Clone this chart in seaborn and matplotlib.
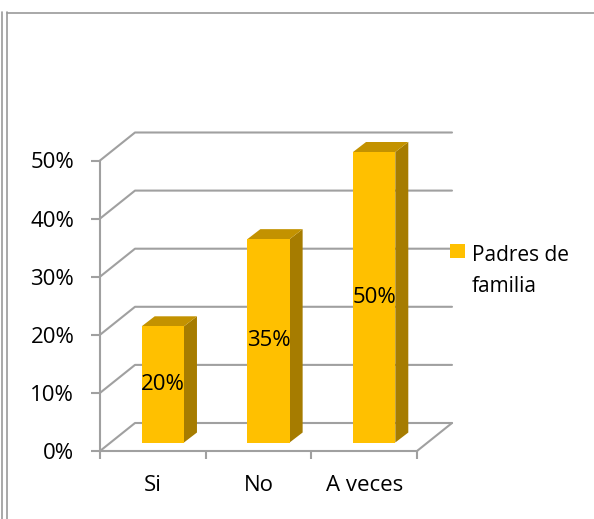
import matplotlib
matplotlib.use("Agg")
import matplotlib.pyplot as plt
import seaborn as sns
from matplotlib.patches import Polygon, Rectangle
from matplotlib.lines import Line2D
from matplotlib.transforms import ScaledTranslation, IdentityTransform

# data
categories = ["Si", "No", "A veces"]
values = [0.20, 0.35, 0.50]
y_ticks = [0.0, 0.1, 0.2, 0.3, 0.4, 0.5]
y_tick_labels = ["0%", "10%", "20%", "30%", "40%", "50%"]
bar_labels = ["20%", "35%", "50%"]
series_name = "Padres de\nfamilia"

# colours
FRONT = "#FFC000"
TOP = "#C39200"
SIDE = "#A67C00"
GRID = "#A0A0A0"

DPI = 100
W, H = 594, 519

sns.set_style("white")
plt.rcParams["font.family"] = ["Open Sans", "DejaVu Sans"]

fig = plt.figure(figsize=(W / DPI, H / DPI), dpi=DPI)

# front plane of the 3D box, in pixels (from top-left)
x0, x1, y0, y1 = 100, 417, 451, 160.5
ax = fig.add_axes([x0 / W, 1 - y0 / H, (x1 - x0) / W, (y0 - y1) / H])
ax.patch.set_alpha(0)

sns.barplot(x=categories, y=values, color=FRONT, saturation=1, width=0.4,
            ax=ax, zorder=3, linewidth=0)
ax.set_xlim(-0.5, 2.5)
ax.set_ylim(0, 0.5)
ax.set_xlabel("")
ax.set_ylabel("")

# depth offsets in pixels
wall_dx, wall_dy = 35, 28
bar_dx, bar_dy = 10, 8.5
depth_dx, depth_dy = 13, 10

ident = IdentityTransform()


def px(x, y):
    return ax.transData.transform((x, y))


# back wall grid lines + left wall diagonals
for t in y_ticks:
    fx, fy = px(-0.5, t)
    ex, ey = px(2.5, t)
    ax.add_line(Line2D([fx, fx + wall_dx, ex + wall_dx], [fy, fy + wall_dy, ey + wall_dy],
                       transform=ident, color=GRID, lw=1.5, zorder=1, clip_on=False))
# right edge of the floor
rx0, ry0 = px(2.5, 0)
ax.add_line(Line2D([rx0, rx0 + wall_dx], [ry0, ry0 + wall_dy], transform=ident,
                   color=GRID, lw=1.5, zorder=1, clip_on=False))

# bars: push the front faces into the box and add top / side faces
off = ScaledTranslation(bar_dx / DPI, bar_dy / DPI, fig.dpi_scale_trans)
bars = list(ax.patches)
for bar, lab in zip(bars, bar_labels):
    bar.set_transform(ax.transData + off)
    bar.set_clip_on(False)
    xl = bar.get_x()
    xr = xl + bar.get_width()
    h = bar.get_height()
    lx, by = px(xl, 0)
    rx, ty = px(xr, h)
    lx += bar_dx
    rx += bar_dx
    by += bar_dy
    ty += bar_dy
    side = Polygon([(rx, by), (rx, ty), (rx + depth_dx, ty + depth_dy), (rx + depth_dx, by + depth_dy)],
                   closed=True, facecolor=SIDE, edgecolor="none", transform=ident, zorder=2.9, clip_on=False)
    top = Polygon([(lx, ty), (rx, ty), (rx + depth_dx, ty + depth_dy), (lx + depth_dx, ty + depth_dy)],
                  closed=True, facecolor=TOP, edgecolor="none", transform=ident, zorder=2.9, clip_on=False)
    ax.add_patch(side)
    ax.add_patch(top)
    ax.text(xl + bar.get_width() / 2, h / 2, lab, transform=ax.transData + off,
            ha="center", va="center", fontsize=16, color="black", zorder=5)

# axes
for s in ["top", "right"]:
    ax.spines[s].set_visible(False)
for s in ["left", "bottom"]:
    ax.spines[s].set_color(GRID)
    ax.spines[s].set_linewidth(1.5)
    ax.spines[s].set_zorder(2)

ax.set_yticks(y_ticks, y_tick_labels)
ax.tick_params(axis="y", length=6.5, width=1.5, color=GRID, pad=12,
               labelsize=16, labelcolor="black", left=True)
ax.set_xticks([-0.5, 0.5, 1.5, 2.5], ["", "", "", ""])
ax.set_xticks([0, 1, 2], categories, minor=True)
ax.tick_params(axis="x", which="major", length=6, width=1.5, color=GRID, bottom=True)
ax.tick_params(axis="x", which="minor", length=0, pad=17, labelsize=16, labelcolor="black")

# legend
fig.add_artist(Rectangle((450 / W, 1 - 258 / H), 15 / W, 14 / H, transform=fig.transFigure,
                         facecolor=FRONT, edgecolor="none"))
fig.text(472 / W, 1 - 245 / H, series_name, va="top", ha="left", fontsize=15,
         linespacing=1.6, color="black")

# outer frame
frame = "#9A9A9A"
fig.add_artist(Line2D([1.5 / W, 1.5 / W], [0, 1 - 12 / H], transform=fig.transFigure, color=frame, lw=1.2))
fig.add_artist(Line2D([7 / W, 7 / W], [0, 1 - 12 / H], transform=fig.transFigure, color=frame, lw=1.2))
fig.add_artist(Line2D([7 / W, 1], [1 - 12.5 / H, 1 - 12.5 / H], transform=fig.transFigure, color=frame, lw=1.2))

fig.savefig("out.png", dpi=DPI)
